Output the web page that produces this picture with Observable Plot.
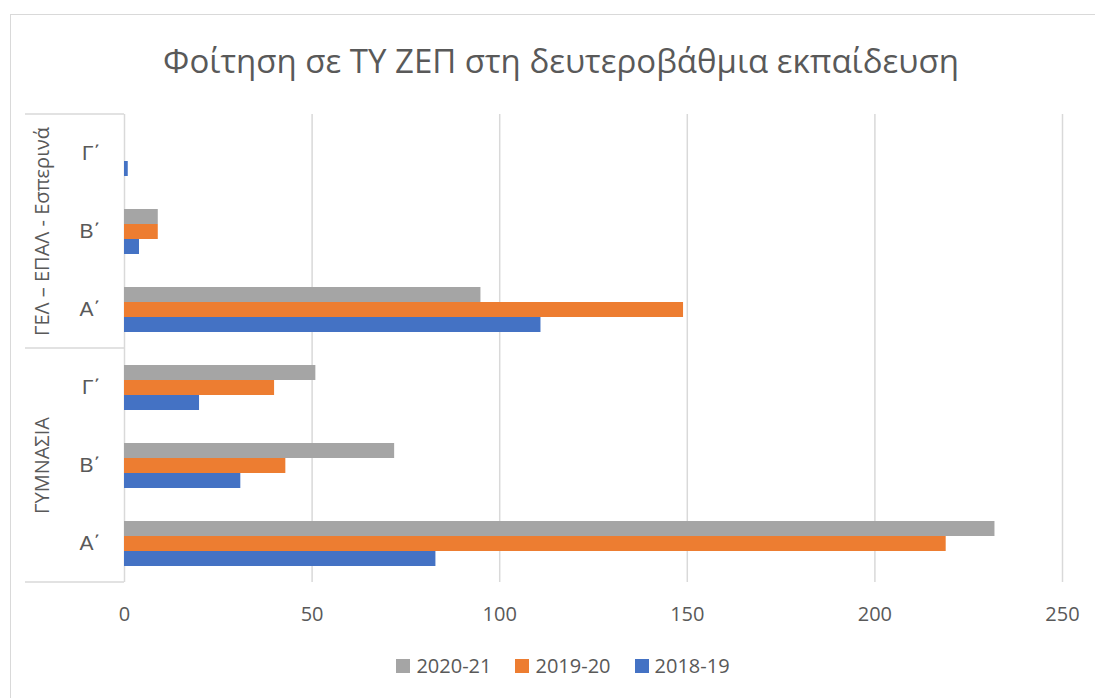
<!DOCTYPE html>
<html>
<head>
<meta charset="utf-8">
<script src="https://cdn.jsdelivr.net/npm/d3@7"></script>
<script src="https://cdn.jsdelivr.net/npm/@observablehq/plot@0.6"></script>
<style>
  html, body { margin: 0; padding: 0; background: #fff; }
  #wrap { position: relative; width: 1095px; height: 698px; overflow: hidden; font-family: "Open Sans", sans-serif; color: #595959; }
  #border { position: absolute; left: 10px; top: 14px; width: 1200px; height: 800px; border: 1.5px solid #d9d9d9; box-sizing: border-box; }
  #title { position: absolute; left: 0; width: 1122px; top: 41px; text-align: center; font-size: 33px; line-height: 40px; white-space: nowrap; }
  #chart { position: absolute; left: 0; top: 0; }
  #legend { position: absolute; left: 0; width: 1126px; top: 652px; display: flex; justify-content: center; gap: 24px; font-size: 20px; line-height: 28px; }
  .item { display: flex; align-items: center; gap: 6px; }
  .sw { width: 14px; height: 14px; display: inline-block; }
  g[aria-label="fy-axis tick label"] text { font-family: "Liberation Sans", sans-serif; font-size: 21px; }
</style>
</head>
<body>
<div id="wrap">
  <div id="border"></div>
  <div id="title"></div>
  <div id="chart"></div>
  <div id="legend"></div>
</div>
<script>
// ---- data ----
const title = "Φοίτηση σε ΤΥ ΖΕΠ στη δευτεροβάθμια εκπαίδευση";
const groups = ["ΓΥΜΝΑΣΙΑ", "ΓΕΛ – ΕΠΑΛ - Εσπερινά"];
const classes = ["Α΄", "Β΄", "Γ΄"];
const series = ["2020-21", "2019-20", "2018-19"];
const seriesColors = ["#a5a5a5", "#ed7d31", "#4472c4"];
// order: ΓΥΜΝΑΣΙΑ Α΄, Β΄, Γ΄, then ΓΕΛ – ΕΠΑΛ - Εσπερινά Α΄, Β΄, Γ΄
const values2020_21 = [232, 72, 51, 95, 9, 0];
const values2019_20 = [219, 43, 40, 149, 9, 0];
const values2018_19 = [83, 31, 20, 111, 4, 1];
const xTicks = [0, 50, 100, 150, 200, 250];

const seriesValues = [values2020_21, values2019_20, values2018_19];
const rows = [];
const keys = [];
groups.forEach((g, gi) => classes.forEach((c, ci) => {
  const key = g + "|" + c;
  keys.push(key);
  series.forEach((s, si) => rows.push({key, group: g, cls: c, series: s, value: seriesValues[si][gi * 3 + ci]}));
}));
const fyDomain = keys.slice().reverse();
const groupLabels = groups.map(g => ({key: g + "|" + classes[1], label: g}));

const font = "'Open Sans', sans-serif";
const grid = "#d9d9d9";

const plot = Plot.plot({
  width: 1095,
  height: 640,
  marginTop: 113,
  marginBottom: 57,
  marginLeft: 124,
  marginRight: 33,
  style: {fontFamily: font, fontSize: "20px", color: "#595959", background: "transparent", overflow: "visible"},
  x: {domain: [0, 250], ticks: xTicks, tickSize: 0, tickPadding: 24, label: null},
  y: {domain: series, paddingInner: 0, paddingOuter: 1, axis: null},
  fy: {domain: fyDomain, padding: 0, axis: "left", tickSize: 0, tickPadding: 24, label: null, tickFormat: d => d.split("|")[1]},
  color: {domain: series, range: seriesColors},
  marks: [
    Plot.gridX({ticks: xTicks.slice(1), stroke: grid, strokeOpacity: 1, strokeWidth: 1.5}),
    Plot.ruleX([0], {stroke: grid, strokeWidth: 1.5}),
    Plot.barX(rows, {fy: "key", y: "series", x: "value", fill: "series"}),
    Plot.text(groupLabels, {fy: "key", text: "label", frameAnchor: "left", textAnchor: "middle", rotate: -90, dx: -82, fontSize: 20, fill: "#595959"})
  ]
});
document.getElementById("chart").appendChild(plot);

// hierarchical category separators, positioned with Plot's fy scale
const fy = plot.scale("fy");
const fyBand = d3.scaleBand().domain(fy.domain).range(fy.range)
  .paddingInner(fy.paddingInner ?? 0).paddingOuter(fy.paddingOuter ?? 0).align(fy.align ?? 0.5);
const pos = k => (fy.apply ? fy.apply(k) : fyBand(k));
const bw = fy.bandwidth ?? fyBand.bandwidth();
const sepYs = [pos(fyDomain[0]), pos(fyDomain[2]) + bw, pos(fyDomain[5]) + bw];
const x0 = plot.scale("x").apply ? plot.scale("x").apply(0) : 124;
d3.select(plot).append("g").selectAll("line").data(sepYs).join("line")
  .attr("x1", 25).attr("x2", x0).attr("y1", d => d).attr("y2", d => d)
  .attr("stroke", grid).attr("stroke-width", 1.5);

document.getElementById("title").textContent = title;
const legend = d3.select("#legend");
series.forEach((s, i) => {
  const it = legend.append("div").attr("class", "item");
  it.append("span").attr("class", "sw").style("background", seriesColors[i]);
  it.append("span").text(s);
});
</script>
</body>
</html>
